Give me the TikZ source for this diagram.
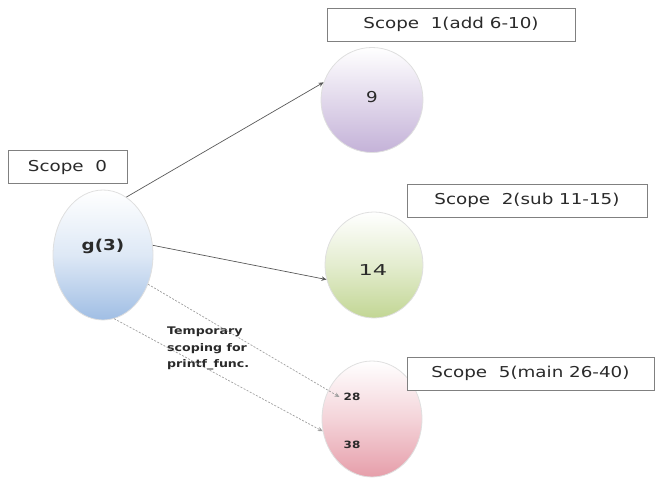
\documentclass[tikz,border=0pt]{standalone}
\usepackage{fontspec}
\usetikzlibrary{shapes.geometric,arrows.meta}
\newfontfamily\labelfont[FakeStretch=1.22]{DejaVu Sans}
\newfontfamily\notefont[FakeStretch=1.2]{DejaVu Sans}
\definecolor{txt}{HTML}{2A2A2A}
\definecolor{boxline}{HTML}{808080}
\definecolor{blueb}{RGB}{160,190,228}
\definecolor{purpleb}{RGB}{196,178,216}
\definecolor{greenb}{RGB}{194,214,148}
\definecolor{pinkb}{RGB}{230,158,170}
\tikzset{
  scopebox/.style={draw=boxline, line width=0.8pt, fill=white, minimum height=33pt,
    text=txt, font={\labelfont\fontsize{15}{18}\selectfont}},
  bubble/.style={ellipse, draw=gray!25, line width=0.8pt, inner sep=0pt},
  num/.style={text=txt, font={\labelfont\fontsize{15}{18}\selectfont}},
  small/.style={text=txt, font={\notefont\bfseries\fontsize{10}{11}\selectfont}},
  link/.style={draw=gray!70!black, line width=0.7pt, -{Stealth[length=5pt,width=4.5pt]}},
  dlink/.style={link, draw=gray!75, dash pattern=on 2pt off 1.5pt}
}
\begin{document}
\begin{tikzpicture}[x=1pt,y=-1pt]
\useasboundingbox (0,0) rectangle (657,479);

% scope ellipses
\node[bubble, minimum width=100pt, minimum height=130pt,
  top color=white, bottom color=blueb, middle color=blueb!35] (g) at (103,255) {};
\node[bubble, minimum width=102pt, minimum height=105pt,
  top color=white, bottom color=purpleb, middle color=purpleb!50] (p) at (372,100) {};
\node[bubble, minimum width=98pt, minimum height=106pt,
  top color=white, bottom color=greenb, middle color=greenb!45] (q) at (374,265) {};
\node[bubble, minimum width=100pt, minimum height=116pt,
  top color=white, bottom color=pinkb, middle color=pinkb!45] (r) at (372,419) {};

% values
\node[num, font={\labelfont\bfseries\fontsize{15}{18}\selectfont}] (gt) at (103,246) {g(3)};
\node[num] at (372,97) {9};
\node[num, font={\labelfont\fontsize{15}{18}\selectfont\addfontfeature{FakeStretch=1.5}}] at (373,270) {14};
\node[small, inner sep=4pt] (t28) at (352,397) {28};
\node[small] (t38) at (352,445) {38};

% scope labels
\node[scopebox, minimum width=119pt] (s0) at (67.5,167) {Scope\ \ 0};
\node[scopebox, minimum width=248pt] (s1) at (451,24.5) {Scope\ \ 1(add 6-10)};
\node[scopebox, minimum width=240pt] (s2) at (527,200.5) {Scope\ \ 2(sub 11-15)};
\node[scopebox, minimum width=247pt] (s5) at (530.5,373.5) {Scope\ \ 5(main 26-40)};

% note on the temporary scope
\node[small, align=left, anchor=north west, inner sep=0pt,
  font={\notefont\bfseries\fontsize{10.5}{16.5}\selectfont}] (note) at (167,327)
  {Temporary\\scoping for\\printf\_func.};

% calls
\draw[link] (g.68) -- (p.160);
\draw[link] (g.11) -- (q.197);
\draw[dlink] (g.327) -- (t28.west);
\draw[dlink] (g.280) -- (r.194);
\end{tikzpicture}
\end{document}
